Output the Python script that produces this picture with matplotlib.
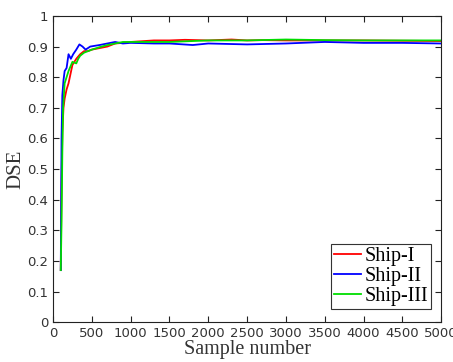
import matplotlib
matplotlib.use("Agg")
import matplotlib.pyplot as plt
import numpy as np

ship1_x = [100, 110, 120, 135, 150, 175, 200, 225, 250, 275, 300, 350, 400, 450, 500, 600, 700, 800, 900, 1000, 1300, 1500, 1700, 2000, 2300, 2500, 2700, 3000, 3500, 4000, 4500, 5000]
ship1_y = [0.17, 0.45, 0.62, 0.70, 0.73, 0.76, 0.78, 0.81, 0.84, 0.85, 0.86, 0.875, 0.885, 0.885, 0.89, 0.895, 0.90, 0.91, 0.912, 0.915, 0.92, 0.92, 0.922, 0.92, 0.923, 0.92, 0.921, 0.92, 0.92, 0.92, 0.919, 0.918]

ship2_x = [100, 110, 120, 135, 150, 175, 200, 230, 260, 300, 340, 380, 420, 480, 600, 700, 800, 900, 1000, 1300, 1500, 1800, 2000, 2500, 3000, 3500, 4000, 4500, 5000]
ship2_y = [0.17, 0.60, 0.74, 0.79, 0.82, 0.83, 0.875, 0.86, 0.875, 0.89, 0.907, 0.90, 0.89, 0.90, 0.905, 0.91, 0.915, 0.91, 0.912, 0.91, 0.91, 0.905, 0.91, 0.907, 0.91, 0.915, 0.912, 0.912, 0.91]

ship3_x = [100, 110, 120, 130, 150, 175, 200, 250, 300, 325, 350, 400, 500, 600, 700, 900, 1200, 1500, 2000, 2500, 3000, 3500, 4000, 4500, 5000]
ship3_y = [0.17, 0.33, 0.55, 0.70, 0.78, 0.80, 0.82, 0.85, 0.845, 0.86, 0.87, 0.88, 0.89, 0.898, 0.905, 0.915, 0.915, 0.915, 0.92, 0.92, 0.923, 0.921, 0.92, 0.92, 0.92]

x_ticks = [0, 500, 1000, 1500, 2000, 2500, 3000, 3500, 4000, 4500, 5000]
y_ticks = [0, 0.1, 0.2, 0.3, 0.4, 0.5, 0.6, 0.7, 0.8, 0.9, 1]
y_ticklabels = ["0", "0.1", "0.2", "0.3", "0.4", "0.5", "0.6", "0.7", "0.8", "0.9", "1"]

fig = plt.figure(figsize=(4.53, 3.62), dpi=100)
ax = fig.add_axes([0.117, 0.110, 0.857, 0.846])

ax.plot(ship1_x, ship1_y, color="#ff0000", lw=1.3, label="Ship-I")
ax.plot(ship2_x, ship2_y, color="#0000ff", lw=1.3, label="Ship-II")
ax.plot(ship3_x, ship3_y, color="#00dd00", lw=1.3, label="Ship-III")

ax.set_xlim(0, 5000)
ax.set_ylim(0, 1)
ax.set_xticks(x_ticks)
ax.set_yticks(y_ticks)
ax.set_yticklabels(y_ticklabels)
ax.tick_params(direction="in", top=True, right=True, labelsize=9.5, length=4, width=0.8, colors="#222222", labelcolor="#333333")
for s in ax.spines.values():
    s.set_linewidth(0.8)
    s.set_color("#222222")

ax.set_xlabel("Sample number", family="Liberation Serif", fontsize=14.5, color="#333333", labelpad=0)
ax.set_ylabel("DSE", family="Liberation Serif", fontsize=15, color="#333333", labelpad=1)

leg = ax.legend(loc="lower right", prop={"family": "Liberation Serif", "size": 14.5},
                fancybox=False, edgecolor="#333333", framealpha=1, borderpad=0.15,
                labelspacing=0.05, handlelength=1.35, handletextpad=0.15,
                borderaxespad=0, bbox_to_anchor=(0.974, 0.042))
leg.get_frame().set_linewidth(0.8)

fig.savefig("out.png", dpi=100)
